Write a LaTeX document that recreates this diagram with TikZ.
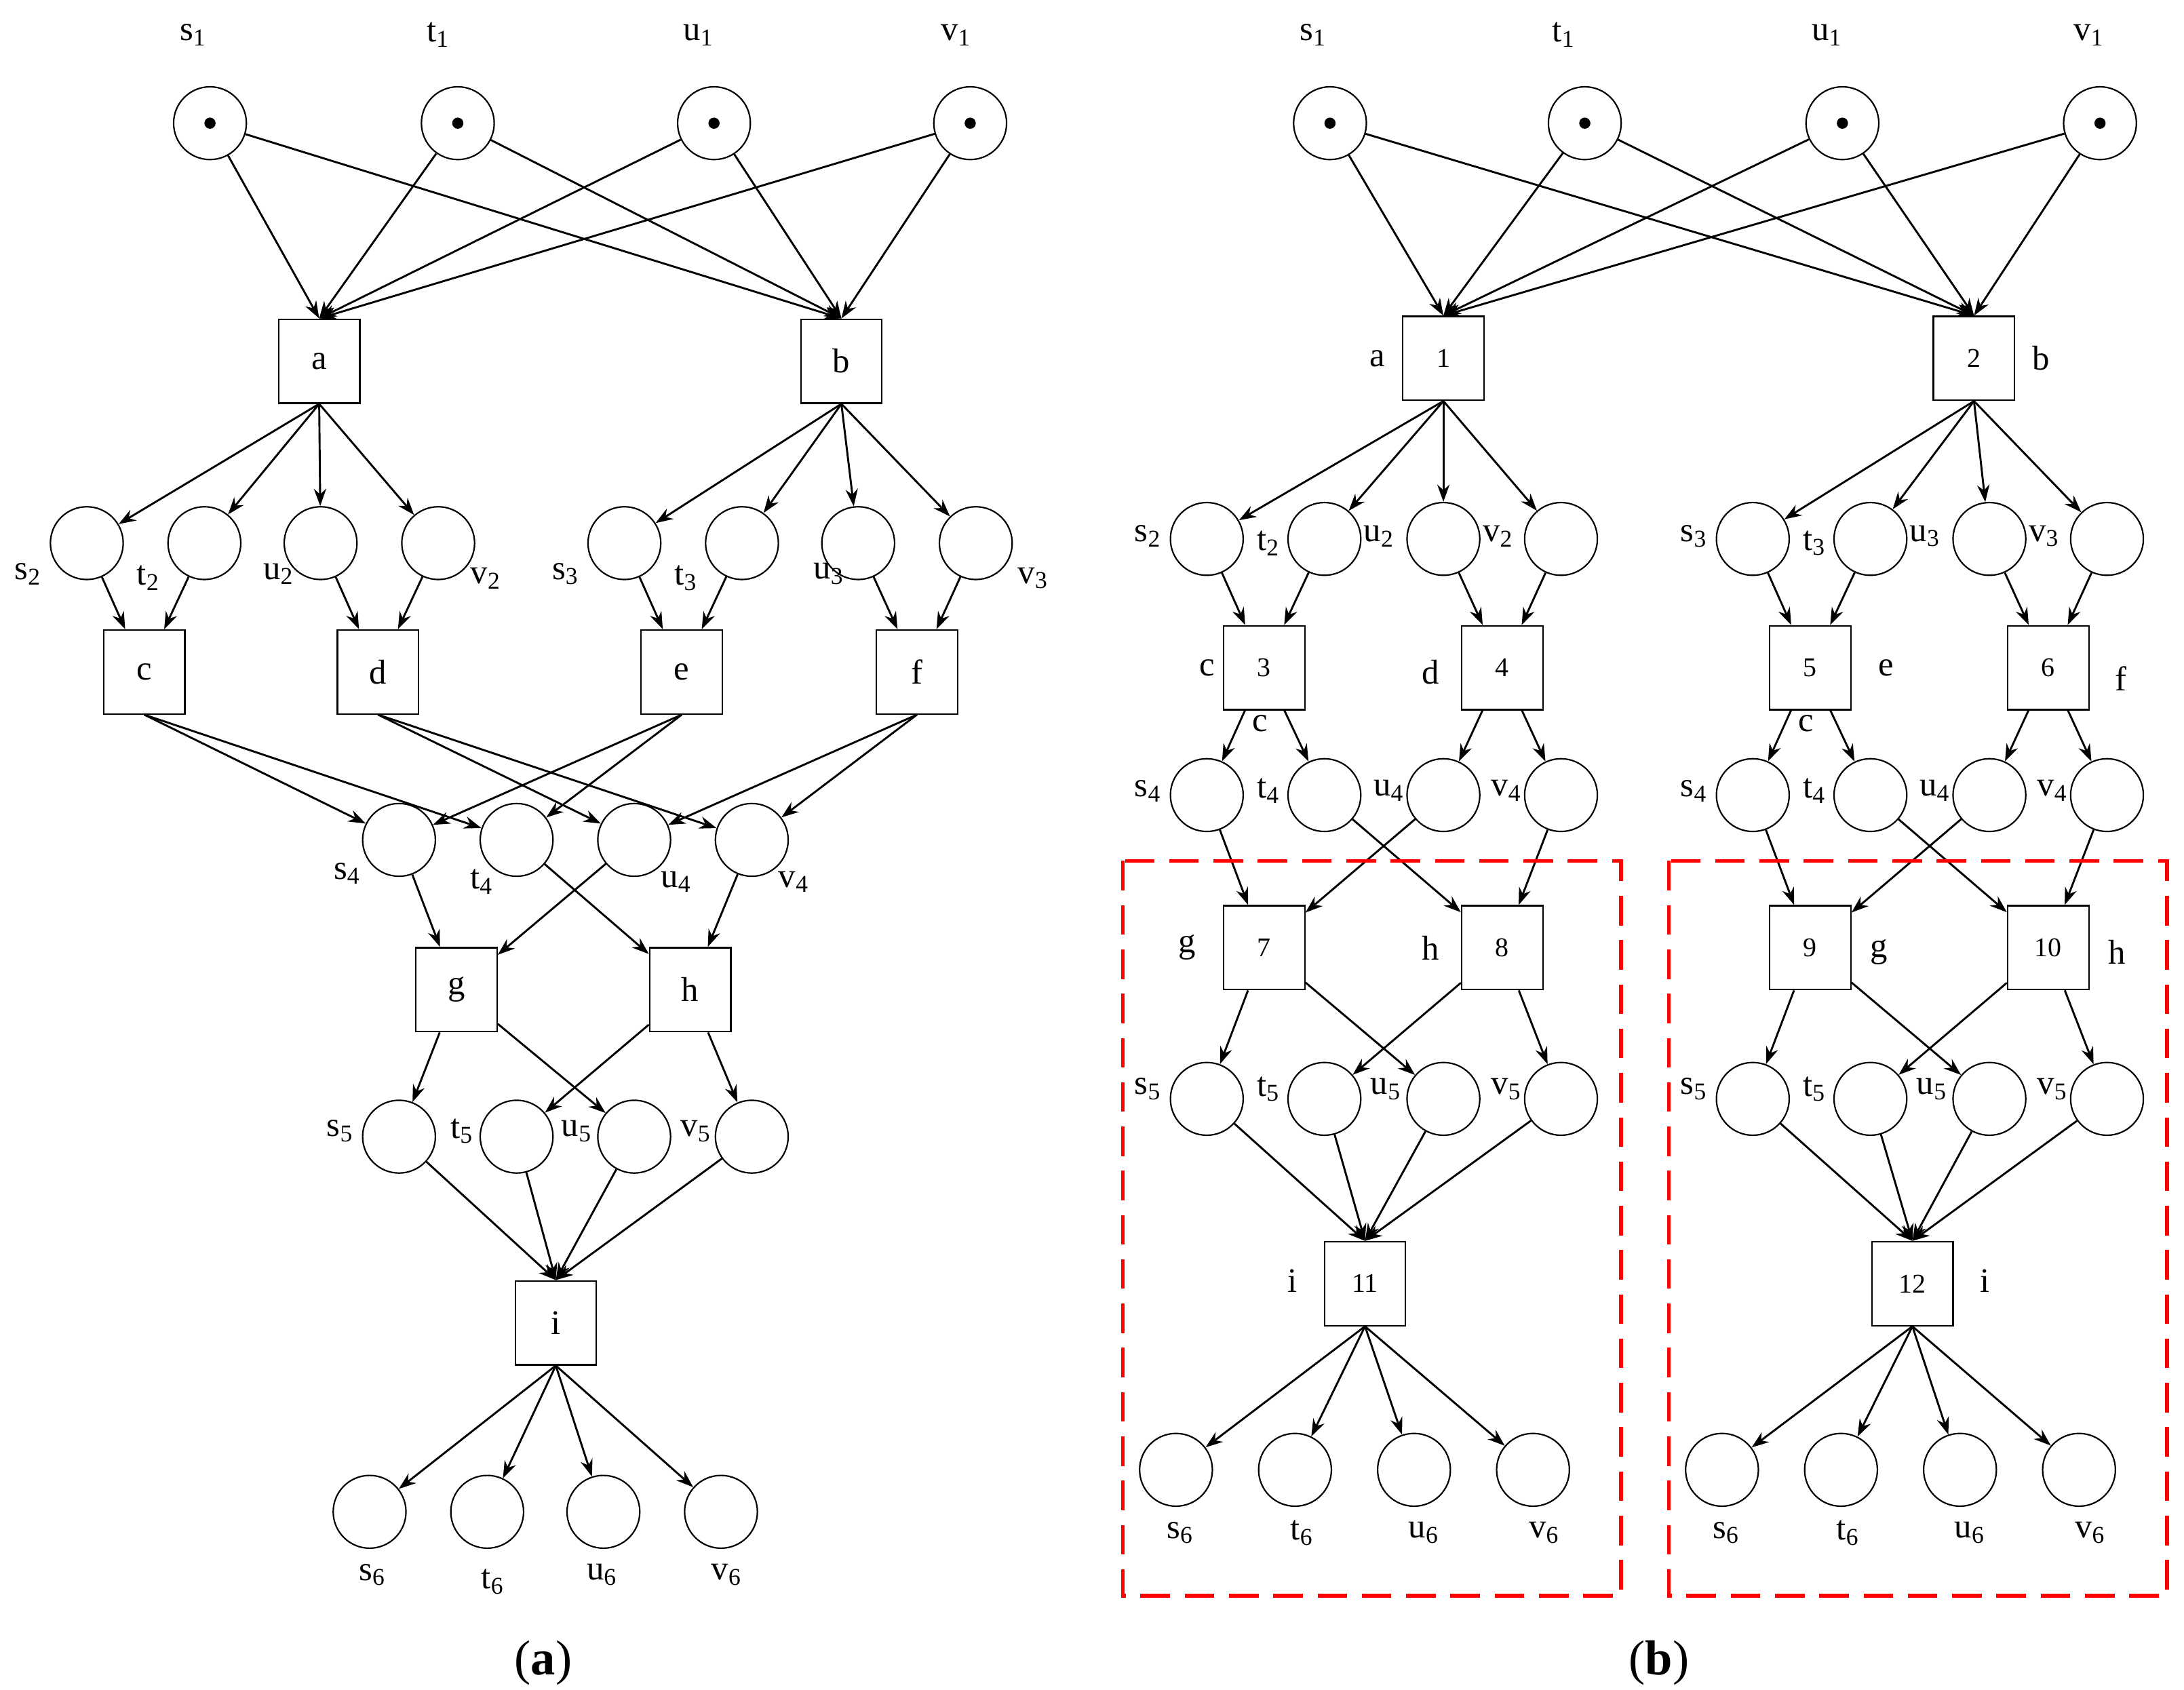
\documentclass[tikz,border=0pt]{standalone}
\usepackage{fontspec}
\setmainfont{Liberation Serif}
\usetikzlibrary{arrows.meta}
\begin{document}
\begin{tikzpicture}[x=0.02cm,y=-0.02cm,
 pl/.style={circle,draw,line width=0.6pt,minimum size=1.04cm,inner sep=0pt},
 tr/.style={rectangle,draw,line width=0.6pt,minimum width=1.16cm,minimum height=1.2cm,inner sep=0pt,font=\fontsize{14}{16}\selectfont},
 trn/.style={tr,font=\fontsize{11}{13}\selectfont},
 lb/.style={inner sep=0pt,font=\fontsize{14}{16}\selectfont},
 tok/.style={circle,fill,inner sep=0pt,minimum size=0.16cm},
 ar/.style={-{Stealth[length=7pt,width=5pt]},line width=0.8pt},
 red box/.style={draw=red,line width=1.6pt,dash pattern=on 12pt off 6pt}]
\useasboundingbox (0,0) rectangle (1560,1207);
% ---------- panel (a) ----------
\foreach \n/\x in {s1/150,t1/327,u1/510,v1/693}{\node[pl] (A\n) at (\x,88) {}; \node[tok] (At\n) at (\x,88) {};}
\node[lb] (Al1) at (138,25) {s\textsubscript{1}};
\node[lb] (Al2) at (313,25) {t\textsubscript{1}};
\node[lb] (Al3) at (499,25) {u\textsubscript{1}};
\node[lb] (Al4) at (683,25) {v\textsubscript{1}};
\node[tr] (Aa) at (228,258) {a};
\node[tr] (Ab) at (601,258) {b};
\foreach \n/\x in {s2/62,t2/146,u2/229,v2/313,s3/446,t3/530,u3/613,v3/697}{\node[pl] (A\n) at (\x,388) {};}
\node[lb] (Als2) at (20,410) {s\textsubscript{2}};
\node[lb] (Alt2) at (106,413) {t\textsubscript{2}};
\node[lb] (Alu2) at (199,410) {u\textsubscript{2}};
\node[lb] (Alv2) at (347,413) {v\textsubscript{2}};
\node[lb] (Als3) at (404,410) {s\textsubscript{3}};
\node[lb] (Alt3) at (490,413) {t\textsubscript{3}};
\node[lb] (Alu3) at (592,410) {u\textsubscript{3}};
\node[lb] (Alv3) at (738,413) {v\textsubscript{3}};
\node[tr] (Ac) at (103,480) {c};
\node[tr] (Ad) at (270,480) {d};
\node[tr] (Ae) at (487,480) {e};
\node[tr] (Af) at (655,480) {f};
\foreach \n/\x in {s4/285,t4/369,u4/453,v4/537}{\node[pl] (A\n) at (\x,600) {};}
\node[lb] (Als4) at (248,624) {s\textsubscript{4}};
\node[lb] (Alt4) at (344,630) {t\textsubscript{4}};
\node[lb] (Alu4) at (483,630) {u\textsubscript{4}};
\node[lb] (Alv4) at (567,630) {v\textsubscript{4}};
\node[tr] (Ag) at (326,707) {g};
\node[tr] (Ah) at (493,707) {h};
\foreach \n/\x in {s5/285,t5/369,u5/453,v5/537}{\node[pl] (A\n) at (\x,812) {};}
\node[lb] (Als5) at (243,808) {s\textsubscript{5}};
\node[lb] (Alt5) at (330,808) {t\textsubscript{5}};
\node[lb] (Alu5) at (412,808) {u\textsubscript{5}};
\node[lb] (Alv5) at (497,808) {v\textsubscript{5}};
\node[tr] (Ai) at (397,945) {i};
\foreach \n/\x in {s6/264,t6/348,u6/431,v6/515}{\node[pl] (A\n) at (\x,1080) {};}
\node[lb] (Als6) at (266,1125) {s\textsubscript{6}};
\node[lb] (Alt6) at (352,1130) {t\textsubscript{6}};
\node[lb] (Alu6) at (430,1125) {u\textsubscript{6}};
\node[lb] (Alv6) at (519,1125) {v\textsubscript{6}};
\node[lb,font=\fontsize{20}{22}\selectfont] (Acap) at (388,1188) {(\textbf{a})};
\foreach \p in {s1,t1,u1,v1}{\draw[ar] (A\p) -- (Aa.north); \draw[ar] (A\p) -- (Ab.north);}
\foreach \p in {s2,t2,u2,v2}{\draw[ar] (Aa.south) -- (A\p);}
\foreach \p in {s3,t3,u3,v3}{\draw[ar] (Ab.south) -- (A\p);}
\draw[ar] (As2) -- (Ac); \draw[ar] (At2) -- (Ac);
\draw[ar] (Au2) -- (Ad); \draw[ar] (Av2) -- (Ad);
\draw[ar] (As3) -- (Ae); \draw[ar] (At3) -- (Ae);
\draw[ar] (Au3) -- (Af); \draw[ar] (Av3) -- (Af);
\draw[ar] (Ac.south) -- (As4); \draw[ar] (Ac.south) -- (At4);
\draw[ar] (Ad.south) -- (Au4); \draw[ar] (Ad.south) -- (Av4);
\draw[ar] (Ae.south) -- (As4); \draw[ar] (Ae.south) -- (At4);
\draw[ar] (Af.south) -- (Au4); \draw[ar] (Af.south) -- (Av4);
\draw[ar] (As4) -- (Ag); \draw[ar] (Au4) -- (Ag);
\draw[ar] (At4) -- (Ah); \draw[ar] (Av4) -- (Ah);
\draw[ar] (Ag) -- (As5); \draw[ar] (Ag) -- (Au5);
\draw[ar] (Ah) -- (At5); \draw[ar] (Ah) -- (Av5);
\foreach \p in {s5,t5,u5,v5}{\draw[ar] (A\p) -- (Ai.north);}
\foreach \p in {s6,t6,u6,v6}{\draw[ar] (Ai.south) -- (A\p);}
% ---------- panel (b) ----------
\foreach \n/\x in {s1/950,t1/1132,u1/1316,v1/1500}{\node[pl] (B\n) at (\x,88) {}; \node[tok] (Bt\n) at (\x,88) {};}
\node[lb] (Bl1) at (938,25) {s\textsubscript{1}};
\node[lb] (Bl2) at (1117,25) {t\textsubscript{1}};
\node[lb] (Bl3) at (1305,25) {u\textsubscript{1}};
\node[lb] (Bl4) at (1492,25) {v\textsubscript{1}};
\node[trn] (B1) at (1031,256) {1};
\node[trn] (B2) at (1410,256) {2};
\node[lb] (Bla) at (984,256) {a};
\node[lb] (Blb) at (1458,256) {b};
\foreach \p in {s1,t1,u1,v1}{\draw[ar] (B\p) -- (B1.north); \draw[ar] (B\p) -- (B2.north);}
\foreach \side/\dx/\T/\U/\Wa/\Wb/\Xa/\Xb/\Z in {L/0/2/3/4/7/8/11/1, R/390/3/5/6/9/10/12/2}{
 \foreach \n/\x in {s/862,t/946,u/1031,v/1115}{
   \node[pl] (B\side\n2) at (\x+\dx,385) {};
   \node[pl] (B\side\n4) at (\x+\dx,568) {};
   \node[pl] (B\side\n5) at (\x+\dx,785) {};
 }
 \foreach \n/\x in {s/840,t/925,u/1010,v/1095}{\node[pl] (B\side\n6) at (\x+\dx,1050) {};}
 \node[trn] (B\side c) at (903+\dx,477) {\U};
 \node[trn] (B\side d) at (1073+\dx,477) {\Wa};
 \node[trn] (B\side g) at (903+\dx,677) {\Wb};
 \node[trn] (B\side h) at (1073+\dx,677) {\Xa};
 \node[trn] (B\side i) at (975+\dx-\dx/390*-1,917) {\Xb};
 \foreach \n in {s,t,u,v}{\draw[ar] (B\Z.south) -- (B\side\n2);}
 \draw[ar] (B\side s2) -- (B\side c); \draw[ar] (B\side t2) -- (B\side c);
 \draw[ar] (B\side u2) -- (B\side d); \draw[ar] (B\side v2) -- (B\side d);
 \draw[ar] (B\side c) -- (B\side s4); \draw[ar] (B\side c) -- (B\side t4);
 \draw[ar] (B\side d) -- (B\side u4); \draw[ar] (B\side d) -- (B\side v4);
 \draw[ar] (B\side s4) -- (B\side g); \draw[ar] (B\side u4) -- (B\side g);
 \draw[ar] (B\side t4) -- (B\side h); \draw[ar] (B\side v4) -- (B\side h);
 \draw[ar] (B\side g) -- (B\side s5); \draw[ar] (B\side g) -- (B\side u5);
 \draw[ar] (B\side h) -- (B\side t5); \draw[ar] (B\side h) -- (B\side v5);
 \foreach \n in {s,t,u,v}{\draw[ar] (B\side\n5) -- (B\side i.north); \draw[ar] (B\side i.south) -- (B\side\n6);}
 \node[lb] (B\side ls2) at (820+\dx,383) {s\textsubscript{\T}};
 \node[lb] (B\side lt2) at (906+\dx,388) {t\textsubscript{\T}};
 \node[lb] (B\side lu2) at (985+\dx,383) {u\textsubscript{\T}};
 \node[lb] (B\side lv2) at (1070+\dx,383) {v\textsubscript{\T}};
 \node[lb] (B\side ls4) at (820+\dx,565) {s\textsubscript{4}};
 \node[lb] (B\side lt4) at (906+\dx,565) {t\textsubscript{4}};
 \node[lb] (B\side lu4) at (992+\dx,565) {u\textsubscript{4}};
 \node[lb] (B\side lv4) at (1076+\dx,565) {v\textsubscript{4}};
 \node[lb] (B\side ls5) at (820+\dx,778) {s\textsubscript{5}};
 \node[lb] (B\side lt5) at (906+\dx,778) {t\textsubscript{5}};
 \node[lb] (B\side lu5) at (990+\dx,778) {u\textsubscript{5}};
 \node[lb] (B\side lv5) at (1076+\dx,778) {v\textsubscript{5}};
 \node[lb] (B\side ls6) at (843+\dx,1095) {s\textsubscript{6}};
 \node[lb] (B\side lt6) at (930+\dx,1095) {t\textsubscript{6}};
 \node[lb] (B\side lu6) at (1017+\dx,1095) {u\textsubscript{6}};
 \node[lb] (B\side lv6) at (1103+\dx,1095) {v\textsubscript{6}};
 \draw[red box] (802+\dx,615) rectangle (1158+\dx,1140);
}
\node[lb] (BLlc) at (862,477) {c};
\node[lb] (BLlc2) at (900,517) {c};
\node[lb] (BLld) at (1022,480) {d};
\node[lb] (BLlg) at (848,677) {g};
\node[lb] (BLlh) at (1022,677) {h};
\node[lb] (BLli) at (923,915) {i};
\node[lb] (BRle) at (1347,477) {e};
\node[lb] (BRlc2) at (1290,517) {c};
\node[lb] (BRlf) at (1515,485) {f};
\node[lb] (BRlg) at (1342,680) {g};
\node[lb] (BRlh) at (1512,680) {h};
\node[lb] (BRli) at (1418,915) {i};
\node[lb,font=\fontsize{20}{22}\selectfont] (Bcap) at (1185,1188) {(\textbf{b})};
\end{tikzpicture}
\end{document}
